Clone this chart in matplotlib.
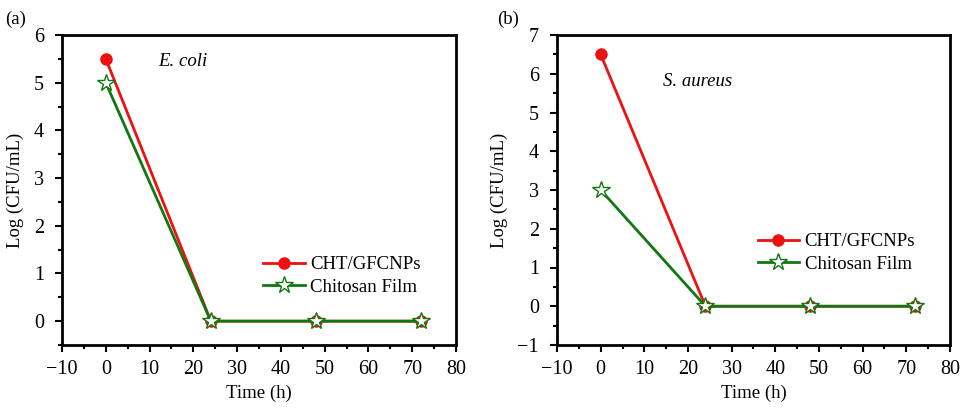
import matplotlib
matplotlib.use("Agg")
import matplotlib.pyplot as plt
from matplotlib.ticker import MultipleLocator

plt.rcParams['font.family'] = ['Liberation Serif', 'DejaVu Serif']

# --- Data ---
time_h = [0, 24, 48, 72]
ecoli_cht = [5.5, 0, 0, 0]
ecoli_film = [5.0, 0, 0, 0]
saureus_cht = [6.5, 0, 0, 0]
saureus_film = [3.0, 0, 0, 0]

RED = '#ee1111'
GREEN = '#117711'
FS = 13.5
TICK_FS = 14.5


def style_axes(ax, ylim):
    ax.set_xlim(-10, 80)
    ax.set_ylim(*ylim)
    ax.xaxis.set_major_locator(MultipleLocator(10))
    ax.xaxis.set_minor_locator(MultipleLocator(5))
    ax.yaxis.set_major_locator(MultipleLocator(1))
    ax.yaxis.set_minor_locator(MultipleLocator(0.5))
    for s in ax.spines.values():
        s.set_linewidth(2.0)
    ax.tick_params(which='both', direction='out', width=1.5, labelsize=TICK_FS,
                   top=False, right=False)
    ax.tick_params(which='major', length=5)
    ax.tick_params(which='minor', length=3)
    ax.tick_params(axis='y', which='major', pad=8)
    ax.tick_params(axis='x', which='major', pad=6)
    ax.set_xlabel('Time (h)', fontsize=FS, labelpad=4)
    ax.set_ylabel('Log (CFU/mL)', fontsize=FS, labelpad=7)


def draw(ax, cht, film):
    ax.plot(time_h, cht, color=RED, lw=2, marker='o', ms=8,
            mfc=RED, mec=RED, label='CHT/GFCNPs', zorder=3)
    ax.plot(time_h, film, color=GREEN, lw=2, marker='*', ms=13,
            mfc='white', mec=GREEN, mew=1.0, label='Chitosan Film', zorder=4)


fig = plt.figure(figsize=(9.66, 4.08), dpi=100)
ax1 = fig.add_axes([62 / 966, 1 - 345 / 408, 394 / 966, 310 / 408])
ax2 = fig.add_axes([557 / 966, 1 - 345 / 408, 393 / 966, 310 / 408])

draw(ax1, ecoli_cht, ecoli_film)
style_axes(ax1, (-0.5, 6))
ax1.text(12, 5.45, 'E. coli', style='italic', fontsize=FS, va='center')
ax1.legend(loc='upper left', bbox_to_anchor=(0.487, 0.317), frameon=False,
           fontsize=FS, handlelength=2.2, handletextpad=0.3,
           labelspacing=0.3, borderpad=0)

draw(ax2, saureus_cht, saureus_film)
style_axes(ax2, (-1, 7))
ax2.text(14.3, 5.79, 'S. aureus', style='italic', fontsize=FS, va='center')
ax2.legend(loc='upper left', bbox_to_anchor=(0.487, 0.391), frameon=False,
           fontsize=FS, handlelength=2.2, handletextpad=0.3,
           labelspacing=0.3, borderpad=0)

fig.text(5 / 966, 1 - 19 / 408, '(a)', fontsize=FS, va='center')
fig.text(497 / 966, 1 - 19 / 408, '(b)', fontsize=FS, va='center')

fig.savefig('out.png', dpi=100)
